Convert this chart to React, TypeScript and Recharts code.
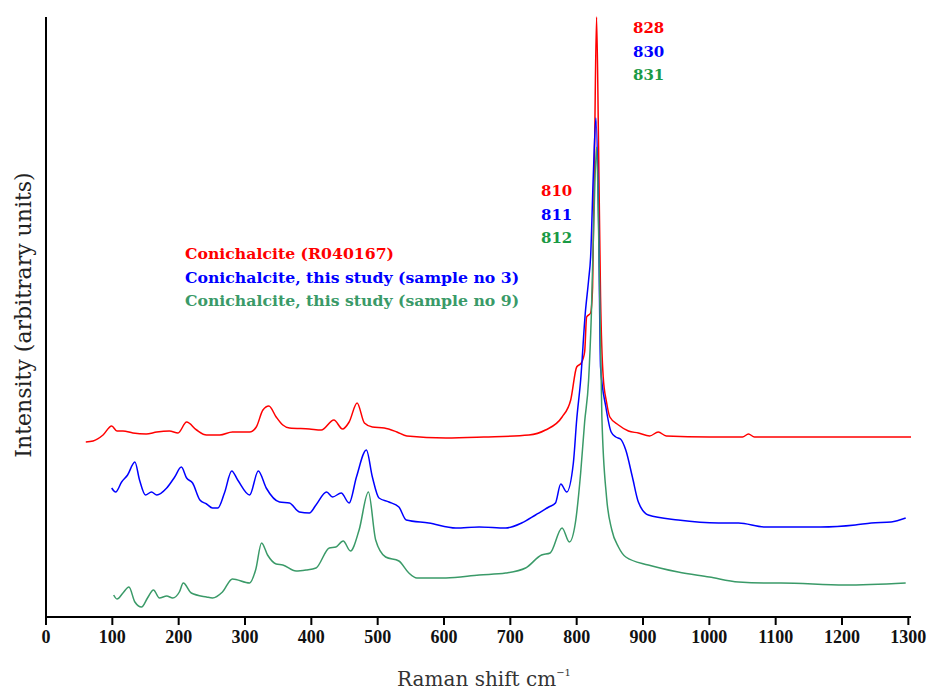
import { LineChart, Line, XAxis, YAxis } from "recharts"

// Spectres Raman de la conichalcite, décalés verticalement (unités arbitraires)

const xTicks = [0, 100, 200, 300, 400, 500, 600, 700, 800, 900, 1000, 1100, 1200, 1300]

const redShift = [60, 71, 86, 99, 107, 116, 131, 151, 167, 186, 199, 212, 227, 242, 262, 281, 307, 317, 327, 336, 347, 357, 367, 397, 415, 434, 447, 457, 469, 480, 492, 510, 529, 544, 603, 660, 728, 753, 778, 791, 800, 807, 812, 815, 821, 824, 827, 830, 833, 836, 840, 845, 850, 863, 878, 893, 910, 923, 935, 1000, 1050, 1059, 1068, 1150, 1250, 1304]
const redIntensity = [175, 176, 182, 191, 186, 186, 184, 183, 185, 186, 184, 195, 187, 182, 182, 185, 185, 190, 207, 211, 200, 192, 189, 188, 187, 197, 188, 195, 214, 194, 190, 189, 185, 181, 179, 180, 182, 187, 200, 217, 250, 254, 265, 300, 304, 330, 470, 600, 470, 320, 240, 215, 200, 192, 186, 184, 181, 185, 181, 180, 180, 183, 180, 180, 180, 180]

const blueShift = [99, 105, 114, 123, 134, 141, 150, 159, 167, 182, 194, 204, 212, 221, 232, 242, 251, 259, 269, 280, 289, 307, 320, 332, 352, 367, 382, 397, 407, 423, 432, 445, 457, 468, 483, 492, 502, 517, 532, 543, 577, 618, 653, 693, 717, 738, 758, 768, 776, 785, 795, 800, 806, 813, 818, 821, 825, 829, 833, 836, 844, 852, 859, 866, 874, 884, 893, 908, 953, 1014, 1044, 1084, 1168, 1220, 1244, 1274, 1296]
const blueIntensity = [129, 125, 135, 142, 155, 137, 122, 125, 122, 129, 140, 150, 139, 134, 117, 113, 109, 109, 124, 146, 137, 122, 146, 129, 115, 114, 105, 104, 112, 125, 120, 124, 114, 140, 167, 140, 119, 115, 110, 97, 94, 89, 90, 89, 94, 102, 110, 114, 133, 125, 154, 197, 237, 304, 337, 360, 440, 499, 400, 250, 210, 185, 180, 178, 167, 140, 115, 102, 97, 94, 94, 90, 90, 92, 94, 95, 99]

const greenShift = [102, 107, 116, 125, 134, 144, 153, 162, 171, 182, 191, 201, 207, 219, 242, 251, 266, 281, 307, 316, 325, 334, 347, 357, 377, 392, 407, 427, 437, 448, 459, 472, 486, 497, 512, 532, 547, 559, 603, 653, 693, 723, 747, 760, 778, 789, 798, 806, 812, 818, 822, 826, 830, 834, 838, 845, 853, 863, 874, 908, 953, 1000, 1044, 1089, 1108, 1204, 1296]
const greenIntensity = [22, 18, 24, 30, 15, 10, 19, 27, 19, 21, 19, 25, 34, 24, 20, 19, 25, 38, 34, 47, 74, 62, 53, 52, 46, 47, 49, 69, 70, 76, 66, 87, 125, 77, 60, 56, 44, 39, 39, 42, 44, 49, 62, 64, 89, 75, 94, 144, 195, 237, 300, 400, 470, 350, 200, 120, 87, 70, 60, 52, 45, 40, 35, 34, 34, 32, 34]

const legendLabels = [
  "Conichalcite (R040167)",
  "Conichalcite, this study (sample no 3)",
  "Conichalcite, this study (sample no 9)",
]
const shoulderLabels = ["810", "811", "812"]
const peakLabels = ["828", "830", "831"]

const RED = "#ff0000"
const BLUE = "#0000ff"
const GREEN = "#3a9a68"
const GREEN_TEXT = "#1a9a45"
const TICK_FONT = "'Liberation Serif', serif"
const TEXT_FONT = "'DejaVu Serif', serif"

function toPoints(xs: number[], ys: number[]) {
  return xs.map((x, i) => ({ x, y: ys[i] }))
}

const redData = toPoints(redShift, redIntensity)
const blueData = toPoints(blueShift, blueIntensity)
const greenData = toPoints(greenShift, greenIntensity)

export default function App() {
  const labelColors = [RED, BLUE, GREEN]
  const numberColors = [RED, BLUE, GREEN_TEXT]
  return (
    <div style={{ position: "absolute", top: 0, left: 0, background: "#fff" }}>
      <LineChart
        width={930}
        height={693}
        margin={{ top: 17, right: 19, bottom: 46, left: 38 }}
      >
        <XAxis
          type="number"
          dataKey="x"
          domain={[0, 1300]}
          ticks={xTicks}
          height={30}
          tickSize={8}
          tickMargin={5}
          stroke="#000"
          strokeWidth={2}
          tick={{ fontSize: 18, fontWeight: "bold", fill: "#111", fontFamily: TICK_FONT }}
        />
        <YAxis
          type="number"
          dataKey="y"
          domain={[0, 600]}
          ticks={[0, 600]}
          width={8}
          tickSize={8}
          tick={false}
          stroke="#000"
          strokeWidth={2}
        />
        <Line data={redData} dataKey="y" type="monotone" stroke={RED} strokeWidth={1.5} dot={false} isAnimationActive={false} />
        <Line data={blueData} dataKey="y" type="monotone" stroke={BLUE} strokeWidth={1.5} dot={false} isAnimationActive={false} />
        <Line data={greenData} dataKey="y" type="monotone" stroke={GREEN} strokeWidth={1.5} dot={false} isAnimationActive={false} />

        <g fontFamily={TEXT_FONT}>
          {legendLabels.map((t, i) => (
            <text key={t} x={185} y={259 + i * 23.5} fontSize={15.7} fontWeight="bold" fill={labelColors[i]}>
              {t}
            </text>
          ))}
          {shoulderLabels.map((t, i) => (
            <text key={t} x={541} y={196 + i * 23.5} fontSize={15} fontWeight="bold" fill={numberColors[i]}>
              {t}
            </text>
          ))}
          {peakLabels.map((t, i) => (
            <text key={t} x={633} y={33 + i * 23.5} fontSize={15} fontWeight="bold" fill={numberColors[i]}>
              {t}
            </text>
          ))}
          <text x={484} y={686} fontSize={20} fill="#333" textAnchor="middle">
            Raman shift cm
            <tspan fontSize={10} dy={-10}>−1</tspan>
          </text>
          <text
            x={0}
            y={0}
            fontSize={22}
            fill="#222"
            textAnchor="middle"
            transform="translate(31, 315) rotate(-90)"
          >
            Intensity (arbitrary units)
          </text>
        </g>
      </LineChart>
    </div>
  )
}
